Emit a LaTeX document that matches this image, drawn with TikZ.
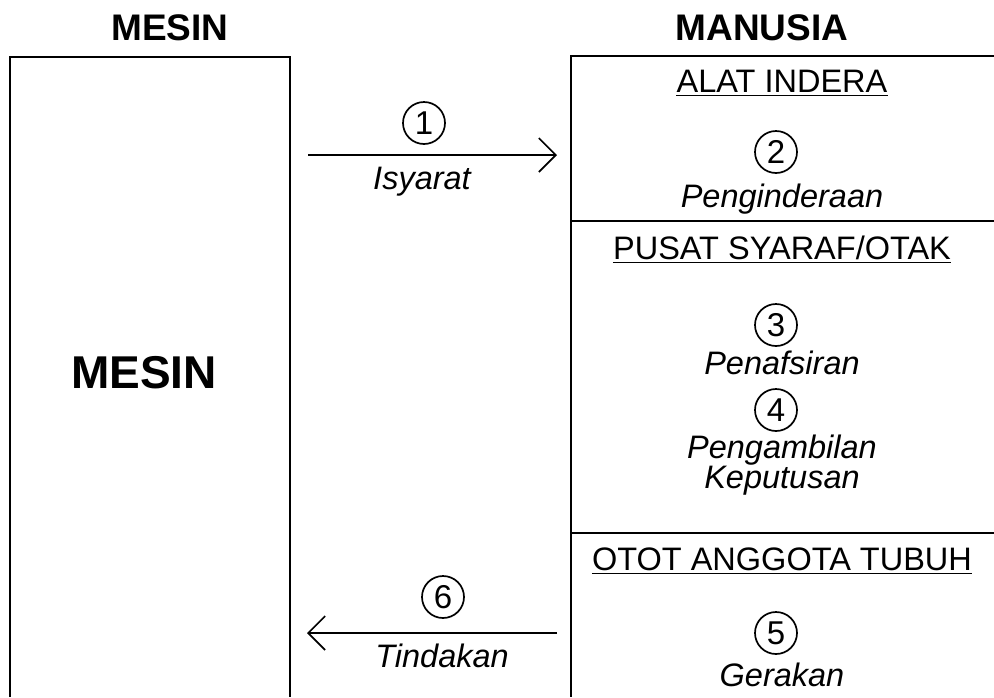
\documentclass[tikz,border=0pt]{standalone}
\usepackage{fontspec}
\setmainfont{Liberation Sans}
\usetikzlibrary{arrows.meta}
\begin{document}
\begin{tikzpicture}[x=1pt,y=-1pt,
  hdr/.style={font=\fontsize{37}{44}\selectfont\bfseries, inner sep=0pt, anchor=base},
  bigtxt/.style={font=\fontsize{46}{54}\selectfont\bfseries, inner sep=0pt, anchor=base},
  sect/.style={font=\fontsize{32.5}{39}\selectfont, inner sep=0pt, anchor=base},
  lbl/.style={font=\fontsize{32.5}{39}\selectfont\itshape, inner sep=0pt, anchor=base},
  num/.style={circle, draw, line width=1.7pt, minimum size=42pt, inner sep=0pt, font=\fontsize{33}{39}\selectfont},
  frame/.style={line width=1.8pt},
  flow/.style={line width=1.6pt, -{Straight Barb[length=17pt, width=34pt, line width=1.6pt]}},
  uline/.style={line width=1.8pt}
]
\useasboundingbox (0,0) rectangle (994,697);
% boxes
\draw[frame] (10,697) -- (10,57) -- (290,57) -- (290,697);
\draw[frame] (994,56) -- (571,56) -- (571,697);
\draw[frame] (571,221) -- (994,221);
\draw[frame] (571,533) -- (994,533);
% headers
\node[hdr] (hM) at (170,40) {MESIN};
\node[hdr] (hH) at (762,40) {MANUSIA};
\node[bigtxt] (big) at (144,388) {MESIN};
% right sections
\node[sect] (s1) at (782,92) {ALAT INDERA};
\draw[uline] ([yshift=-3.5pt]s1.base west) -- ([yshift=-3.5pt]s1.base east);
\node[num] (n2) at (776,152) {2};
\node[lbl] (t2) at (782,207) {Penginderaan};
\node[sect] (s2) at (782,259) {PUSAT SYARAF/OTAK};
\draw[uline] ([yshift=-3.5pt]s2.base west) -- ([yshift=-3.5pt]s2.base east);
\node[num] (n3) at (776,325) {3};
\node[lbl] (t3) at (782,374) {Penafsiran};
\node[num] (n4) at (776,410) {4};
\node[lbl] (t4a) at (782,458) {Pengambilan};
\node[lbl] (t4b) at (782,488) {Keputusan};
\node[sect] (s3) at (782,570) {OTOT ANGGOTA TUBUH};
\draw[uline] ([yshift=-3.5pt]s3.base west) -- ([yshift=-3.5pt]s3.base east);
\node[num] (n5) at (776,633) {5};
\node[lbl] (t5) at (782,686) {Gerakan};
% arrows
\coordinate (a1s) at (308,155);
\coordinate (a1e) at (557,155);
\draw[flow] (a1s) -- (a1e);
\node[num] (n1) at (424,123) {1};
\node[lbl] (t1) at (422,189) {Isyarat};
\coordinate (a6s) at (557,633);
\coordinate (a6e) at (307,633);
\draw[flow] (a6s) -- (a6e);
\node[num] (n6) at (443,597) {6};
\node[lbl] (t6) at (442,667) {Tindakan};
\end{tikzpicture}
\end{document}
